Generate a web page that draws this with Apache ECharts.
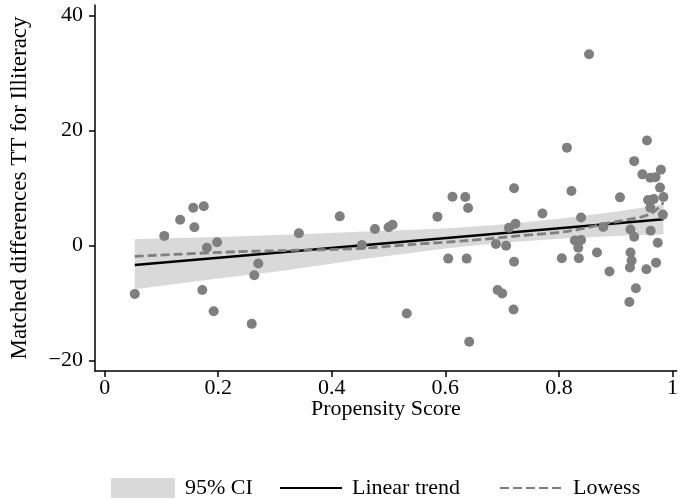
<!DOCTYPE html>
<html>
<head>
<meta charset="utf-8">
<script src="https://cdn.jsdelivr.net/npm/echarts@6/dist/echarts.min.js"></script>
<style>html,body{margin:0;padding:0;background:#fff}#c{width:681px;height:500px}</style>
</head>
<body>
<div id="c"></div>
<script>
// ---- data ----
var xTicks = [0, 0.2, 0.4, 0.6, 0.8, 1];
var yTicks = [-20, 0, 20, 40];

var pointsX = [0.053,0.105,0.133,0.156,0.1745,0.158,0.180,0.198,0.172,0.192,
  0.2705,0.2635,0.259,0.342,0.414,0.453,0.476,0.500,0.507,0.532,
  0.586,0.6125,0.635,0.640,0.605,0.6375,0.642,0.692,0.700,0.689,
  0.707,0.712,0.7235,0.721,0.721,0.720,0.853,0.814,0.822,0.771,
  0.839,0.828,0.839,0.834,0.805,0.835,0.955,0.9325,0.947,0.961,
  0.970,0.9795,0.978,0.9075,0.957,0.967,0.984,0.961,0.983,0.878,
  0.926,0.9325,0.9615,0.974,0.867,0.926,0.928,0.925,0.954,0.971,
  0.889,0.9355,0.924];
var pointsY = [-8.4,1.7,4.5,6.6,6.85,3.2,-0.35,0.6,-7.7,-11.4,
  -3.1,-5.15,-13.6,2.15,5.1,0.1,2.9,3.2,3.65,-11.8,
  5.05,8.5,8.45,6.55,-2.25,-2.25,-16.7,-7.7,-8.3,0.3,
  0,3.1,3.8,10,-2.8,-11.1,33.3,17.05,9.5,5.6,
  4.9,0.9,1.0,-0.35,-2.2,-2.2,18.3,14.7,12.4,11.8,
  11.9,13.2,10.1,8.4,7.95,8.1,8.45,6.6,5.4,3.25,
  2.8,1.55,2.6,0.5,-1.2,-1.2,-2.6,-3.8,-4.1,-2.95,
  -4.5,-7.4,-9.8];

var ciX     = [0.053, 0.2, 0.318, 0.45, 0.6, 0.7, 0.8, 0.9, 0.984];
var ciUpper = [1.15, 1.5, 1.9, 2.4, 3.0, 3.7, 4.7, 5.9, 7.2];
var ciLower = [-7.6, -5.7, -4.3, -2.4, -0.5, 0.5, 1.2, 1.7, 2.0];

var linearX = [0.053, 0.984];
var linearY = [-3.35, 4.6];

var lowessX = [0.053, 0.231, 0.318, 0.447, 0.54, 0.641, 0.728, 0.816, 0.886, 0.949, 0.967, 0.984];
var lowessY = [-1.85, -1.05, -0.85, -0.5, 0.2, 0.9, 1.7, 2.5, 3.9, 5.1, 5.9, 7.5];

// ---- chart ----
var FONT = 'Liberation Serif';
var FS = 22;
function zip(a, b) { return a.map(function (v, i) { return [v, b[i]]; }); }
function fmtY(v) { return v < 0 ? '\u2212' + Math.abs(v) : String(v); }

var chart = echarts.init(document.getElementById('c'), null, {renderer: 'canvas'});
var legendText = {fontFamily: FONT, fontSize: FS, color: '#000', padding: [0, 0, 0, 5]};
var option = {
  animation: false,
  backgroundColor: '#fff',
  textStyle: {fontFamily: FONT},
  grid: {left: 93, top: 5, width: 587, height: 366, containLabel: false},
  xAxis: {
    type: 'value', min: -0.017, max: 1.0075,
    name: 'Propensity Score', nameLocation: 'middle', nameGap: 27, nameMoveOverlap: false,
    nameTextStyle: {fontFamily: FONT, fontSize: FS, color: '#000'},
    axisLine: {show: true, onZero: false, lineStyle: {color: '#000', width: 1.5}},
    axisTick: {show: true, length: 6, lineStyle: {color: '#000', width: 1.5}, customValues: xTicks},
    axisLabel: {fontFamily: FONT, fontSize: FS, color: '#000', margin: 6, customValues: xTicks,
      formatter: function (v) { return String(v); }},
    splitLine: {show: false}
  },
  yAxis: {
    type: 'value', min: -21.8, max: 41.86,
    name: 'Matched differences TT for Illiteracy', nameLocation: 'middle', nameGap: 64, nameMoveOverlap: false,
    nameTextStyle: {fontFamily: FONT, fontSize: 23, color: '#000'},
    axisLine: {show: true, onZero: false, lineStyle: {color: '#000', width: 1.5}},
    axisTick: {show: true, length: 6, lineStyle: {color: '#000', width: 1.5}, customValues: yTicks},
    axisLabel: {fontFamily: FONT, fontSize: FS, color: '#000', margin: 12, customValues: yTicks,
      formatter: fmtY},
    splitLine: {show: false}
  },
  legend: [
    {left: 111, top: 477, padding: 0, itemWidth: 64, itemHeight: 20,
      data: [{name: '95% CI', icon: 'rect'}], textStyle: legendText},
    {left: 279, top: 477, padding: 0, itemWidth: 62, itemHeight: 20,
      data: [{name: 'Linear trend', itemStyle: {opacity: 0}}], textStyle: legendText},
    {left: 499, top: 477, padding: 0, itemWidth: 63, itemHeight: 20,
      data: [{name: 'Lowess', itemStyle: {opacity: 0}}], textStyle: legendText}
  ],
  series: [
    {
      name: '95% CI', type: 'custom', z: 1,
      itemStyle: {color: '#d9d9d9'},
      data: ciX.map(function (x, i) { return [x, ciUpper[i], ciLower[i]]; }),
      encode: {x: 0, y: [1, 2]},
      renderItem: function (params, api) {
        if (params.dataIndex !== 0) return null;
        var pts = [];
        for (var i = 0; i < ciX.length; i++) pts.push(api.coord([ciX[i], ciUpper[i]]));
        for (var j = ciX.length - 1; j >= 0; j--) pts.push(api.coord([ciX[j], ciLower[j]]));
        return {type: 'polygon', shape: {points: pts}, style: {fill: '#d9d9d9'}};
      }
    },
    {
      name: 'Linear trend', type: 'line', z: 3, symbol: 'none',
      data: zip(linearX, linearY),
      lineStyle: {color: '#000', width: 2.5},
      itemStyle: {color: '#000'}
    },
    {
      name: 'Lowess', type: 'line', z: 3, symbol: 'none', smooth: 0.3,
      data: zip(lowessX, lowessY),
      lineStyle: {color: '#7f7f7f', width: 2.8, type: [9, 4]},
      itemStyle: {color: '#7f7f7f'}
    },
    {
      name: 'points', type: 'scatter', z: 4, symbol: 'circle', symbolSize: 10,
      data: zip(pointsX, pointsY),
      itemStyle: {color: '#7f7f7f', opacity: 1}
    }
  ]
};
chart.setOption(option);
</script>
</body>
</html>
